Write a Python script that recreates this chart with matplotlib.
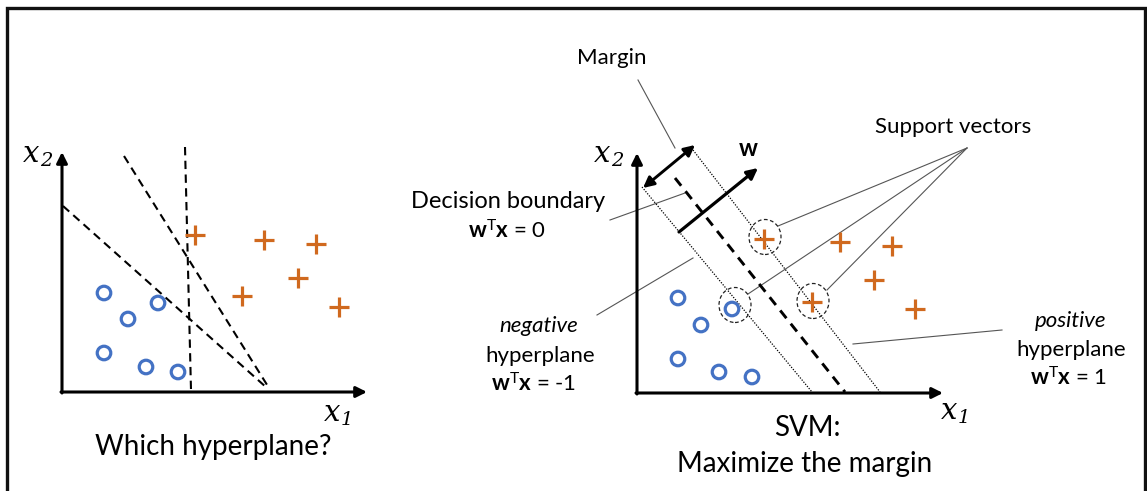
import numpy as np
import matplotlib
matplotlib.use("Agg")
import matplotlib.pyplot as plt
from matplotlib.patches import Ellipse

plt.rcParams['font.family'] = ['Lato', 'DejaVu Sans']
plt.rcParams['mathtext.fontset'] = 'custom'
plt.rcParams['mathtext.rm'] = 'Lato'
plt.rcParams['mathtext.bf'] = 'Lato:bold'
plt.rcParams['mathtext.it'] = 'Lato:italic'

BLUE = '#4472C4'
ORANGE = '#D0691E'
GREY = '#555555'

# ── data (panel units: x1 to the right, x2 upwards, origin at axis corner) ──
left_neg_x1 = [42, 96, 66, 42, 84, 116]
left_neg_x2 = [99, 89, 73, 39, 25, 20]
left_pos_x1 = [133, 202, 254, 236, 180, 277]
left_pos_x2 = [157, 152, 148, 114, 96, 85]
# candidate hyperplanes: (x1 start, x2 start, x1 end, x2 end)
left_planes = [(123, 245, 129, 2), (62, 236, 207, 4), (1, 186, 205, 4)]

right_neg_x1 = [41, 64, 41, 82, 115, 95]
right_neg_x2 = [95, 68, 34, 21, 16, 84]
right_pos_x1 = [203, 255, 237, 278, 127, 175]
right_pos_x2 = [151, 147, 113, 84, 154, 91]
support_x1 = [128, 98, 176]
support_x2 = [156, 88, 92]
boundary = (38, 215, 208, 1)
neg_plane = (5, 206, 175, 1)
pos_plane = (56, 243, 243, 1)
margin_ends = (6, 205, 58, 248)
w_vec = (42, 161, 121, 225)

W, H = 1147, 491
fig = plt.figure(figsize=(W / 100, H / 100), dpi=100)

# overlay axes in pixel units for frame, labels and leader lines
ov = fig.add_axes([0, 0, 1, 1])
ov.set_xlim(0, W)
ov.set_ylim(H, 0)
ov.axis('off')


def panel(x0, y0, w, h):
    a = fig.add_axes([x0 / W, (H - y0) / H, w / W, h / H])
    a.set_xlim(0, w)
    a.set_ylim(0, h)
    a.axis('off')
    arrow = dict(arrowstyle='-|>', lw=2.2, color='black',
                 mutation_scale=16, shrinkA=0, shrinkB=0)
    a.annotate('', xy=(w, 0), xytext=(-1, 0), arrowprops=arrow,
               annotation_clip=False)
    a.annotate('', xy=(0, h), xytext=(0, -1), arrowprops=arrow,
               annotation_clip=False)
    return a


def points(a, nx, ny, px, py):
    a.scatter(nx, ny, s=95, marker='o', facecolors='none',
              edgecolors=BLUE, linewidths=2.3, zorder=5, clip_on=False)
    a.scatter(px, py, s=210, marker='+', color=ORANGE,
              linewidths=2.3, zorder=5, clip_on=False)


def axis_label(x, y, sub):
    ov.text(x, y, 'x', fontsize=21, family='DejaVu Serif', style='italic',
            ha='right', va='baseline')
    ov.text(x + 1, y + 4, sub, fontsize=14, family='DejaVu Serif',
            style='italic', ha='left', va='baseline')


# ── left panel ──
axl = panel(62, 392, 305, 240)
for x0, y0, x1, y1 in left_planes:
    axl.plot([x0, x1], [y0, y1], color='black', lw=1.5,
             ls=(0, (4, 2.6)), clip_on=False)
points(axl, left_neg_x1, left_neg_x2, left_pos_x1, left_pos_x2)

# ── right panel ──
axr = panel(637, 393, 306, 240)
for seg in (neg_plane, pos_plane):
    axr.plot([seg[0], seg[2]], [seg[1], seg[3]], color='black', lw=0.9,
             ls=(0, (1, 1.2)), clip_on=False)
axr.plot([boundary[0], boundary[2]], [boundary[1], boundary[3]],
         color='black', lw=2.1, ls=(0, (3.4, 2.4)), clip_on=False)
for cx, cy in zip(support_x1, support_x2):
    axr.add_patch(Ellipse((cx, cy), 32, 35, fill=False, ec='#222222',
                          lw=0.9, ls=(0, (3, 2)), clip_on=False, zorder=4))
points(axr, right_neg_x1, right_neg_x2, right_pos_x1, right_pos_x2)
axr.annotate('', xy=margin_ends[:2], xytext=margin_ends[2:],
             arrowprops=dict(arrowstyle='<|-|>', lw=2.1, color='black',
                             mutation_scale=16, shrinkA=0, shrinkB=0),
             annotation_clip=False)
axr.annotate('', xy=w_vec[2:], xytext=w_vec[:2],
             arrowprops=dict(arrowstyle='-|>', lw=2.3, color='black',
                             mutation_scale=16, shrinkA=0, shrinkB=0),
             annotation_clip=False)

# ── frame ──
ov.plot([7, 7, 1145, 1145], [H, 8, 8, H], color='#111111', lw=2.4,
        solid_joinstyle='miter')

# ── leader lines ──
leaders = [((638, 80), (675, 148)), ((610, 220), (685, 193)),
           ((597, 315), (693, 258)), ((967, 148), (778, 226)),
           ((967, 148), (748, 294)), ((967, 148), (827, 290)),
           ((853, 344), (1002, 330))]
for (xa, ya), (xb, yb) in leaders:
    ov.plot([xa, xb], [ya, yb], color=GREY, lw=0.8)

# ── text ──
axis_label(39, 162, '2')
axis_label(340, 421, '1')
axis_label(610, 162, '2')
axis_label(957, 419, '1')

big = dict(fontsize=20, ha='center', va='center')
ov.text(213, 447, 'Which hyperplane?', **big)
ov.text(807, 428, 'SVM:', **big)
ov.text(805, 464, 'Maximize the margin', **big)

mid = dict(fontsize=16, ha='center', va='center')
ov.text(612, 58, 'Margin', **mid)
ov.text(953, 127, 'Support vectors', **mid)
ov.text(508, 202, 'Decision boundary', fontsize=17, ha='center',
        va='center')
ov.text(507, 231, r'$\mathbf{w}^{\mathrm{T}}\mathbf{x}$ = 0', **mid)
ov.text(748, 149, 'w', fontsize=17, fontweight='bold', ha='center',
        va='center')
ov.text(539, 326, 'negative', fontstyle='italic', **mid)
ov.text(540, 356, 'hyperplane', **mid)
ov.text(534, 384, r'$\mathbf{w}^{\mathrm{T}}\mathbf{x}$ = -1', **mid)
ov.text(1071, 321, 'positive', fontstyle='italic', **mid)
ov.text(1071, 350, 'hyperplane', **mid)
ov.text(1068, 378, r'$\mathbf{w}^{\mathrm{T}}\mathbf{x}$ = 1', **mid)

fig.savefig('out.png', dpi=100, facecolor='white')
